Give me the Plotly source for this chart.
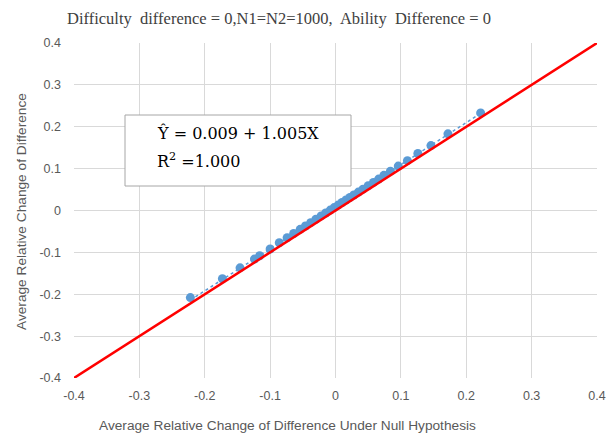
import plotly.graph_objects as go

# Data
x_vals = [-0.222, -0.173, -0.146, -0.124, -0.116, -0.100, -0.086, -0.074, -0.064,
          -0.054, -0.046, -0.038, -0.030, -0.022, -0.015, -0.008, -0.002, 0.004,
          0.010, 0.016, 0.022, 0.028, 0.035, 0.042, 0.050, 0.058, 0.066, 0.074,
          0.084, 0.096, 0.110, 0.126, 0.146, 0.172, 0.222]
y_vals = [-0.208, -0.163, -0.137, -0.116, -0.108, -0.092, -0.077, -0.065, -0.055,
          -0.045, -0.037, -0.029, -0.021, -0.013, -0.006, 0.001, 0.007, 0.013,
          0.019, 0.025, 0.031, 0.037, 0.044, 0.051, 0.059, 0.067, 0.075, 0.084,
          0.094, 0.106, 0.119, 0.136, 0.155, 0.183, 0.233]
fit_x = [-0.222, 0.222]
fit_y = [-0.214, 0.232]
ref_x = [-0.4, 0.4]
ref_y = [-0.4, 0.4]
ticks = [-0.4, -0.3, -0.2, -0.1, 0, 0.1, 0.2, 0.3, 0.4]
tick_text = ["-0.4", "-0.3", "-0.2", "-0.1", "0", "0.1", "0.2", "0.3", "0.4"]

# page pixel -> paper coordinate helpers (plot area 74..597 x 43..378 on the page)
def px(p):
    return (p - 74) / 523

def py(p):
    return (378 - p) / 335

fig = go.Figure()
fig.add_trace(go.Scatter(x=x_vals, y=y_vals, mode="markers",
                         marker=dict(color="#5B9BD5", size=9), showlegend=False))
fig.add_trace(go.Scatter(x=fit_x, y=fit_y, mode="lines",
                         line=dict(color="#5B9BD5", width=1.5, dash="dot"), showlegend=False))
fig.add_trace(go.Scatter(x=ref_x, y=ref_y, mode="lines",
                         line=dict(color="#FF0000", width=2.5), showlegend=False, cliponaxis=False))

axis_common = dict(range=[-0.4, 0.4], tickvals=ticks, ticktext=tick_text,
                   showgrid=True, gridcolor="#D9D9D9", gridwidth=1,
                   zeroline=True, zerolinecolor="#D9D9D9", zerolinewidth=1,
                   showline=False, ticks="", automargin=False,
                   tickfont=dict(family="Liberation Sans, Arial", size=12.5, color="#595959"))

fig.update_layout(
    width=608, height=436,
    margin=dict(l=74, r=11, t=43, b=58),
    paper_bgcolor="white", plot_bgcolor="white",
    xaxis=dict(**axis_common, ticklabelstandoff=8),
    yaxis=dict(**axis_common, ticklabelstandoff=12),
    title=dict(text="Difficulty  difference = 0,N1=N2=1000,  Ability  Difference = 0",
               font=dict(family="Liberation Serif, Times New Roman", size=16.5, color="#404040"),
               x=279 / 608, xanchor="center", y=1 - 18 / 436, yanchor="middle"),
)

title_font = dict(family="Liberation Sans, Arial", size=13.7, color="#595959")
fig.add_annotation(xref="paper", yref="paper", x=px(287), y=py(425),
                   text="Average Relative Change of Difference Under Null Hypothesis",
                   showarrow=False, xanchor="center", yanchor="middle", font=title_font)
fig.add_annotation(xref="paper", yref="paper", x=px(21), y=py(212),
                   text="Average Relative Change of Difference", textangle=-90,
                   showarrow=False, xanchor="center", yanchor="middle", font=title_font)

fig.add_shape(type="rect", xref="paper", yref="paper",
              x0=px(125), x1=px(351), y0=py(186), y1=py(115),
              line=dict(color="#A6A6A6", width=1), fillcolor="white", layer="above")
fig.add_annotation(xref="paper", yref="paper", x=px(155), y=py(133),
                   text="Ŷ = 0.009 + 1.005X", showarrow=False, xanchor="left", yanchor="middle",
                   font=dict(family="DejaVu Serif", size=16, color="#000000"))
fig.add_annotation(xref="paper", yref="paper", x=px(155), y=py(160),
                   text="R<sup>2</sup> =1.000", showarrow=False, xanchor="left", yanchor="middle",
                   font=dict(family="DejaVu Serif", size=16, color="#000000"))

fig.write_html("out.html", config={"displayModeBar": False},
               post_script="document.body.style.margin='0';document.body.style.overflow='hidden';")
